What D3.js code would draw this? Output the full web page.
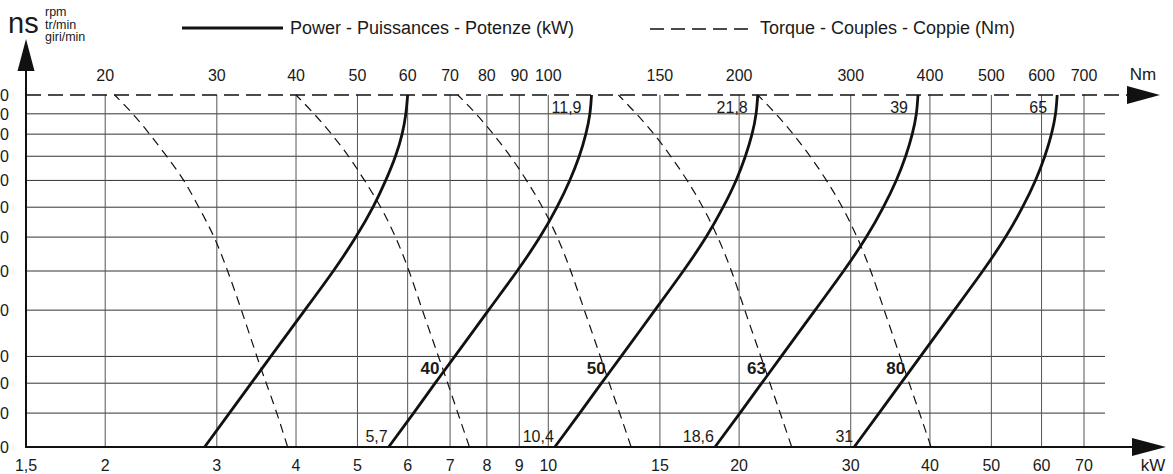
<!doctype html>
<html>
<head>
<meta charset="utf-8">
<script src="https://d3js.org/d3.v7.min.js"></script>
<style>
body {margin: 0; background: white;}
svg text {font-family: "Liberation Sans", Arial, Helvetica, sans-serif; fill: #1a1a1a;}
</style>
</head>
<body>
<svg width="1173" height="474" class="nomo"></svg>
<script>

// speed rows (rpm), bottom to top
var rpm = [700, 800, 900, 1000, 1200, 1400, 1600, 1800, 2000, 2200, 2400, 2600, 2800];

var kwTicks = [1.5, 2, 3, 4, 5, 6, 7, 8, 9, 10, 15, 20, 30, 40, 50, 60, 70];
var nmTicks = [20, 30, 40, 50, 60, 70, 80, 90, 100, 150, 200, 300, 400, 500, 600, 700];

var sizes = ["", "40", "50", "63", "80"];
var powerBottomLabels = ["", "5,7", "10,4", "18,6", "31"];
var powerTopLabels = ["", "11,9", "21,8", "39", "65"];

// power (kW) read at each rpm row
var powerA  = [2.87, 3.14, 3.40, 3.65, 4.13, 4.58, 4.97, 5.29, 5.54, 5.74, 5.88, 5.96, 6.0];
var power40 = [5.60, 6.13, 6.63, 7.12, 8.05, 8.93, 9.70, 10.32, 10.81, 11.19, 11.46, 11.63, 11.7];
var power50 = [10.24, 11.21, 12.13, 13.03, 14.73, 16.33, 17.74, 18.87, 19.78, 20.46, 20.96, 21.27, 21.4];
var power63 = [18.32, 20.06, 21.71, 23.31, 26.36, 29.23, 31.75, 33.77, 35.39, 36.62, 37.51, 38.07, 38.3];
var power80 = [30.38, 33.25, 36.0, 38.65, 43.70, 48.46, 52.64, 55.99, 58.68, 60.71, 62.19, 63.12, 63.5];

// torque (Nm) read at each rpm row
var torqueA  = [38.8, 37.3, 35.9, 34.7, 32.8, 31.2, 29.7, 28.1, 26.6, 25.0, 23.5, 22.1, 20.7];
var torque40 = [75.1, 72.0, 69.4, 67.1, 63.3, 60.3, 57.4, 54.4, 51.3, 48.4, 45.5, 42.7, 40];
var torque50 = [135.1, 129.6, 124.8, 120.8, 114.0, 108.5, 103.3, 97.9, 92.4, 87.1, 81.9, 76.9, 72];
var torque63 = [242.1, 232.2, 223.7, 216.4, 204.2, 194.5, 185.0, 175.3, 165.6, 156.0, 146.8, 137.7, 129];
var torque80 = [401.6, 385.2, 371.0, 358.9, 338.8, 322.6, 306.9, 290.9, 274.7, 258.8, 243.4, 228.5, 214];

var powers = [powerA, power40, power50, power63, power80];
var torques = [torqueA, torque40, torque50, torque63, torque80];

var svg = d3.select(".nomo");

var x = d3.scaleLog().domain([1.5, 70]).range([26, 1084]);
var xNm = d3.scaleLog().domain([15, 700]).range([26, 1084]);
var y = d3.scaleLog().domain([700, 2800]).range([447, 95]);

var x0 = x.range()[0], gridRight = 1105;
var yBot = y.range()[0], yTop = y.range()[1];

// grid
svg.append("g").selectAll("line")
  .data(rpm.slice(1, -1))
  .enter().append("line")
  .attr("x1", x0).attr("x2", gridRight)
  .attr("y1", function(d) {return y(d);})
  .attr("y2", function(d) {return y(d);})
  .style("stroke", "#333").style("stroke-width", 1);

svg.append("g").selectAll("line")
  .data(kwTicks.slice(1))
  .enter().append("line")
  .attr("x1", function(d) {return x(d);})
  .attr("x2", function(d) {return x(d);})
  .attr("y1", yTop).attr("y2", yBot)
  .style("stroke", "#555").style("stroke-width", 1);

// axes
svg.append("line").attr("x1", x0).attr("x2", x0).attr("y1", yBot).attr("y2", 66)
  .style("stroke", "#111").style("stroke-width", 2);
svg.append("path").attr("d", "M" + x0 + ",39 L" + (x0 + 8.5) + ",71 L" + (x0 - 8.5) + ",71 Z")
  .style("fill", "#111");

svg.append("line").attr("x1", x0 - 1).attr("x2", 1136).attr("y1", yBot).attr("y2", yBot)
  .style("stroke", "#111").style("stroke-width", 2);
svg.append("path").attr("d", "M1166," + yBot + " L1132," + (yBot - 9) + " L1132," + (yBot + 9) + " Z")
  .style("fill", "#111");

svg.append("line").attr("x1", x0).attr("x2", 1130).attr("y1", yTop).attr("y2", yTop)
  .style("stroke", "#111").style("stroke-width", 1.5).style("stroke-dasharray", "15,7");
svg.append("path").attr("d", "M1160," + yTop + " L1127," + (yTop - 9) + " L1127," + (yTop + 9) + " Z")
  .style("fill", "#111");

// tick labels (rpm labels run off the left edge, as in the source)
svg.append("g").selectAll("text")
  .data(rpm).enter().append("text")
  .attr("x", 9).attr("y", function(d) {return y(d) + 6;})
  .attr("text-anchor", "end").style("font-size", "16px")
  .text(function(d) {return d;});

svg.append("g").selectAll("text")
  .data(kwTicks).enter().append("text")
  .attr("x", function(d) {return x(d);}).attr("y", 471)
  .attr("text-anchor", "middle").style("font-size", "16px")
  .text(function(d) {return String(d).replace(".", ",");});

svg.append("g").selectAll("text")
  .data(nmTicks).enter().append("text")
  .attr("x", function(d) {return xNm(d);}).attr("y", 81)
  .attr("text-anchor", "middle").style("font-size", "16px")
  .text(function(d) {return d;});

svg.append("text").attr("x", 1153).attr("y", 471).attr("text-anchor", "middle")
  .style("font-size", "17px").text("kW");
svg.append("text").attr("x", 1143).attr("y", 80).attr("text-anchor", "middle")
  .style("font-size", "17px").text("Nm");

// ns title
svg.append("text").attr("x", 8).attr("y", 33).style("font-size", "29px").text("ns");
svg.append("text").attr("x", 45).attr("y", 16).style("font-size", "12.5px").text("rpm");
svg.append("text").attr("x", 45).attr("y", 28.5).style("font-size", "12.5px").text("tr/min");
svg.append("text").attr("x", 45).attr("y", 41).style("font-size", "12.5px").text("giri/min");

// legend
svg.append("line").attr("x1", 182).attr("x2", 283).attr("y1", 28).attr("y2", 28)
  .style("stroke", "#111").style("stroke-width", 3);
svg.append("text").attr("x", 290).attr("y", 34).style("font-size", "18px")
  .text("Power - Puissances - Potenze (kW)");
svg.append("line").attr("x1", 650).attr("x2", 750).attr("y1", 29).attr("y2", 29)
  .style("stroke", "#111").style("stroke-width", 1.3).style("stroke-dasharray", "14,7");
svg.append("text").attr("x", 760).attr("y", 34).style("font-size", "18px")
  .text("Torque - Couples - Coppie (Nm)");

// curves
var powerLine = d3.line()
  .x(function(d, i) {return x(d);})
  .y(function(d, i) {return y(rpm[i]);})
  .curve(d3.curveNatural);

var torqueLine = d3.line()
  .x(function(d, i) {return xNm(d);})
  .y(function(d, i) {return y(rpm[i]);})
  .curve(d3.curveNatural);

svg.append("g").selectAll("path")
  .data(torques).enter().append("path")
  .attr("d", torqueLine)
  .style("fill", "none").style("stroke", "#111")
  .style("stroke-width", 1.2).style("stroke-dasharray", "9,6");

svg.append("g").selectAll("path")
  .data(powers).enter().append("path")
  .attr("d", powerLine)
  .style("fill", "none").style("stroke", "#111")
  .style("stroke-width", 2.8);

// value labels
var labelRpm = 955;
powers.forEach(function(p, i) {
  if (!sizes[i]) return;
  var at = d3.scaleLog().domain(rpm).range(p);
  svg.append("text")
    .attr("x", x(at(labelRpm)) - 7).attr("y", y(labelRpm) + 6)
    .attr("text-anchor", "end").style("font-size", "17px").style("font-weight", "bold")
    .text(sizes[i]);
  svg.append("text")
    .attr("x", x(p[0]) - 1).attr("y", 442)
    .attr("text-anchor", "end").style("font-size", "16px")
    .text(powerBottomLabels[i]);
  svg.append("text")
    .attr("x", x(p[p.length - 1]) - 10).attr("y", 113)
    .attr("text-anchor", "end").style("font-size", "16px")
    .text(powerTopLabels[i]);
});

</script>
</body>
</html>
